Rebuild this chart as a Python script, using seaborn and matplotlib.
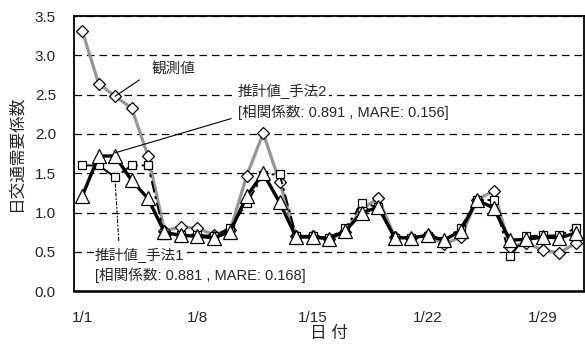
import matplotlib
matplotlib.use("Agg")
import matplotlib.pyplot as plt
import seaborn as sns
import numpy as np
import pandas as pd

# ---- data ----
days = list(range(31))
tick_pos = [0, 7, 14, 21, 28]
tick_labels = ["1/1", "1/8", "1/15", "1/22", "1/29"]
observed = [3.31, 2.64, 2.48, 2.33, 1.72, 0.77, 0.82, 0.80, 0.72, 0.78, 1.47,
            2.01, 1.39, 0.70, 0.70, 0.66, 0.76, 1.05, 1.18, 0.69, 0.68, 0.71,
            0.60, 0.69, 1.16, 1.28, 0.56, 0.62, 0.52, 0.49, 0.61]
method2 = [1.21, 1.72, 1.72, 1.41, 1.18, 0.75, 0.71, 0.70, 0.68, 0.76, 1.21,
           1.50, 1.13, 0.69, 0.69, 0.67, 0.77, 1.00, 1.07, 0.68, 0.68, 0.71,
           0.65, 0.77, 1.16, 1.06, 0.65, 0.66, 0.69, 0.68, 0.74]
method1 = [1.60, 1.60, 1.45, 1.60, 1.60, 0.71, 0.72, 0.72, 0.70, 0.81, 1.12,
           1.48, 1.49, 0.70, 0.70, 0.68, 0.80, 1.12, 1.07, 0.68, 0.68, 0.70,
           0.64, 0.81, 1.16, 1.16, 0.45, 0.70, 0.71, 0.71, 0.80]

lbl_obs = "観測値"
lbl_m2 = ["推計値_手法2", "[相関係数: 0.891 , MARE: 0.156]"]
lbl_m1 = ["推計値_手法1", "[相関係数: 0.881 , MARE: 0.168]"]

sns.set_style("white")
plt.rcParams["font.family"] = ["Liberation Sans", "Noto Sans CJK JP"]

fig = plt.figure(figsize=(5.85, 3.47), dpi=100)
ax = fig.add_axes([74 / 585, 1 - 291.3 / 347, 510 / 585, (291.3 - 16) / 347])

df = pd.DataFrame({"day": days, "obs": observed, "m1": method1, "m2": method2})

sns.lineplot(data=df, x="day", y="obs", ax=ax, color="#969696", lw=2.3,
             marker="D", markersize=5.8, markerfacecolor="white",
             markeredgecolor="black", markeredgewidth=0.9, zorder=3)
sns.lineplot(data=df, x="day", y="m1", ax=ax, color="black", lw=1.4,
             linestyle=(0, (6, 2, 1.5, 2)),
             marker="s", markersize=6.3, markerfacecolor="white",
             markeredgecolor="black", markeredgewidth=0.9, zorder=4)
sns.lineplot(data=df, x="day", y="m2", ax=ax, color="black", lw=2.4,
             marker="^", markersize=9.5, markerfacecolor="white",
             markeredgecolor="black", markeredgewidth=0.9, zorder=5)

ax.set_xlim(-0.5, 30.5)
ax.set_ylim(0, 3.5)
ax.set_yticks(np.arange(0, 3.51, 0.5))
ax.set_yticklabels([f"{v:.1f}" for v in np.arange(0, 3.51, 0.5)], fontsize=11)
ax.set_xticks(tick_pos)
ax.set_xticklabels(tick_labels, fontsize=11)
ax.set_xticks([6.5, 13.5, 20.5, 27.5], minor=True)
ax.tick_params(axis="x", which="major", length=0, pad=14)
ax.tick_params(axis="x", which="minor", direction="in", length=5, width=1, color="black")
ax.tick_params(axis="y", which="major", direction="in", length=4, width=1,
               color="black", pad=13)

ax.yaxis.grid(True, color="black", linestyle=(0, (6, 4)), lw=0.9)
ax.xaxis.grid(False)
ax.set_axisbelow(True)
for s in ax.spines.values():
    s.set_visible(True)
    s.set_color("black")
    s.set_linewidth(1.3)
ax.spines["bottom"].set_linewidth(1.8)

ax.set_xlabel("日 付", fontsize=12, labelpad=1)
ax.set_ylabel("日交通需要係数", fontsize=12, labelpad=8)

bb = dict(boxstyle="square,pad=0.1", fc="white", ec="none")
fs = 10.5

ax.annotate(lbl_obs, xy=(2, observed[2]), xytext=(4.24, 2.83),
            fontsize=fs, ha="left", va="center", zorder=10,
            arrowprops=dict(arrowstyle="-", lw=0.8, color="black",
                            relpos=(0, 0.3), shrinkA=8, shrinkB=0))

ax.text(9.47, 2.545, lbl_m2[0], fontsize=fs, ha="left", va="center",
        bbox=bb, zorder=10)
ax.annotate(lbl_m2[1], xy=(2, method2[2] + 0.04), xytext=(9.47, 2.28),
            fontsize=fs, ha="left", va="center", zorder=10, bbox=bb,
            arrowprops=dict(arrowstyle="-", lw=0.8, color="black",
                            relpos=(0, 0.2), shrinkA=4, shrinkB=0))

ax.annotate(lbl_m1[0], xy=(2, method1[2] - 0.05), xytext=(0.78, 0.46),
            fontsize=fs, ha="left", va="center", zorder=10, bbox=bb,
            arrowprops=dict(arrowstyle="-", lw=0.8, color="black",
                            linestyle=(0, (3, 2, 1, 2)),
                            relpos=(0.27, 1.0), shrinkA=4, shrinkB=0))
ax.text(0.78, 0.207, lbl_m1[1], fontsize=fs, ha="left", va="center",
        bbox=bb, zorder=10)

fig.savefig("out.png", dpi=100)
